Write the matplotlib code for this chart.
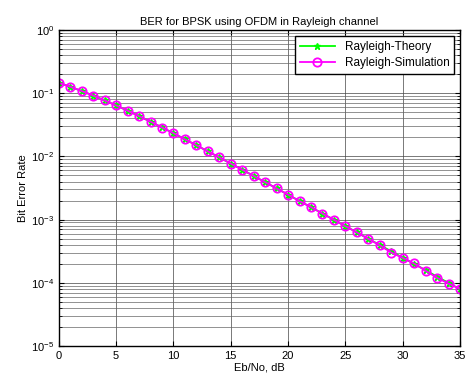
import matplotlib
matplotlib.use("Agg")
import matplotlib.pyplot as plt
import numpy as np

plt.rcParams['font.family'] = ['Liberation Sans', 'DejaVu Sans']

ebno_db = list(range(0, 36))
ber_theory = [0.1464, 0.1267, 0.1085, 0.0919, 0.0771, 0.0642, 0.0530, 0.0435, 0.0355, 0.0288,
              0.0233, 0.01868, 0.01503, 0.01206, 0.00966, 0.00772, 0.00616, 0.00491, 0.00391, 0.00312,
              0.00248, 0.00197, 0.00157, 0.001248, 0.000992, 0.000789, 0.000627, 0.000498, 0.000396, 0.000315,
              0.000250, 0.000199, 0.000158, 0.000125, 0.0000995, 0.0000791]
ber_sim = [0.1460, 0.1270, 0.1083, 0.0921, 0.0770, 0.0641, 0.0532, 0.0434, 0.0356, 0.0287,
           0.0234, 0.01865, 0.01505, 0.01203, 0.00968, 0.00770, 0.00618, 0.00490, 0.00392, 0.00311,
           0.00249, 0.00196, 0.00158, 0.001245, 0.000995, 0.000785, 0.000630, 0.000495, 0.000392, 0.000300,
           0.000248, 0.000202, 0.000155, 0.000120, 0.0000970, 0.0000800]

fig = plt.figure(figsize=(4.67, 3.81), dpi=100)
ax = fig.add_axes([0.126, 0.092, 0.859, 0.829])

ax.semilogy(ebno_db, ber_theory, '-*', color='#00ff00', lw=1.3, ms=4.5,
            label='Rayleigh-Theory')
ax.semilogy(ebno_db, ber_sim, '-o', color='#ff00ff', lw=1.3, ms=6, mfc='none', mew=1.3,
            label='Rayleigh-Simulation')

ax.set_xlim(0, 35)
ax.set_ylim(1e-5, 1)
ax.set_xticks(range(0, 36, 5))
ax.grid(True, which='major', color='#444444', lw=0.5, ls='-')
ax.grid(True, which='minor', axis='y', color='#666666', lw=0.5, ls='-')
ax.tick_params(which='both', direction='in', labelsize=8, top=True, right=True)
for s in ax.spines.values():
    s.set_linewidth(1.0)

ax.set_xlabel('Eb/No, dB', fontsize=8, labelpad=1)
ax.set_ylabel('Bit Error Rate', fontsize=8, labelpad=2)
ax.set_title('BER for BPSK using OFDM in Rayleigh channel', fontsize=8, pad=4)

leg = ax.legend(loc='upper right', fontsize=8.5, fancybox=False, framealpha=1,
                edgecolor='black', borderaxespad=0.5, handlelength=3.0,
                borderpad=0.4, labelspacing=0.4)
leg.get_frame().set_linewidth(1.0)

fig.savefig('out.png', dpi=100)
